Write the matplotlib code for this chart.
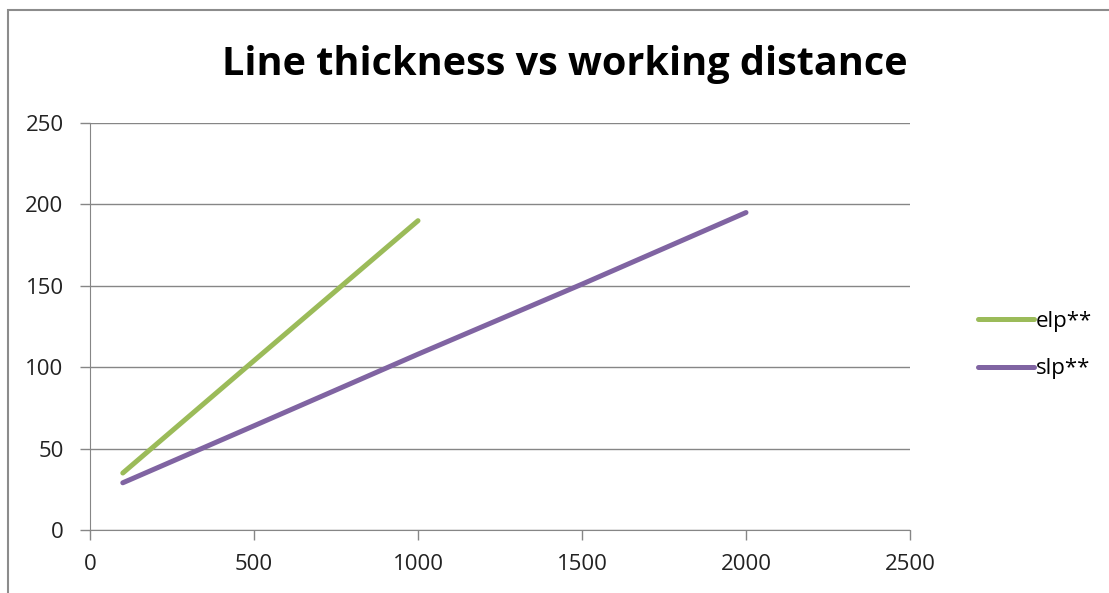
import matplotlib.pyplot as plt
from matplotlib.patches import Rectangle

# data
elp_x = [100, 500, 1000]
elp_y = [35, 104, 190]
slp_x = [100, 500, 1000, 1500, 2000]
slp_y = [29, 64, 108, 151, 195]

x_ticks = [0, 500, 1000, 1500, 2000, 2500]
y_ticks = [0, 50, 100, 150, 200, 250]

title = 'Line thickness vs working distance'
font = ['Open Sans', 'DejaVu Sans']
grey = '#868686'

plt.rcParams['font.family'] = font

fig = plt.figure(figsize=(11.09, 5.93), dpi=100)
# outer chart-area border (only top/left visible in the reference)
fig.patches.append(Rectangle((8 / 1109, -0.1), 1.2, 1.1 - 10 / 593,
                             transform=fig.transFigure, fill=False,
                             edgecolor='#8c8c8c', linewidth=1.5))

ax = fig.add_axes([90 / 1109, 1 - 530 / 593, 820 / 1109, 407 / 593])

ax.plot(elp_x, elp_y, color='#9BBB59', lw=3.6, solid_capstyle='round', label='elp**')
ax.plot(slp_x, slp_y, color='#8064A2', lw=3.6, solid_capstyle='round', label='slp**')

ax.set_xlim(0, 2500)
ax.set_ylim(0, 250)
ax.set_xticks(x_ticks)
ax.set_yticks(y_ticks)
ax.yaxis.grid(True, color=grey, lw=1)
ax.set_axisbelow(True)

for side in ['top', 'right']:
    ax.spines[side].set_visible(False)
for side in ['left', 'bottom']:
    ax.spines[side].set_color(grey)
ax.tick_params(axis='both', colors=grey, labelcolor='#222222', labelsize=16, length=7, width=1)
ax.tick_params(axis='x', pad=10)
ax.tick_params(axis='y', pad=12)

fig.text(565 / 1109, 1 - 65 / 593, title, ha='center', va='center',
         fontsize=28.5, fontweight='bold', color='black')

ax.legend(loc='center left', bbox_to_anchor=(978 / 1109, 1 - 345 / 593),
          bbox_transform=fig.transFigure, frameon=False, fontsize=16,
          borderpad=0, borderaxespad=0, handlelength=2.5, handletextpad=0.1,
          labelspacing=1.2)

fig.savefig('out.png', dpi=100)
